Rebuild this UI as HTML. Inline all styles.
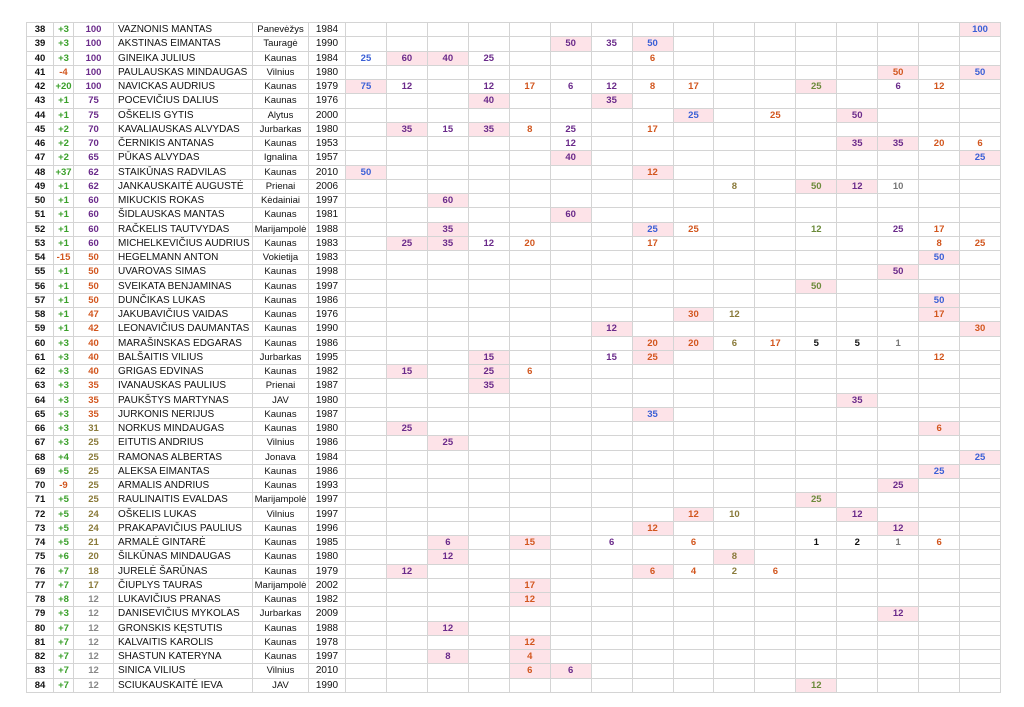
<!DOCTYPE html>
<html><head><meta charset="utf-8">
<style>
html,body{margin:0;padding:0;background:#fff;width:1024px;height:707px;overflow:hidden}
table{position:absolute;left:26px;top:22px;border-collapse:collapse;table-layout:fixed;width:974px;font-family:"Liberation Sans",sans-serif}
td{border:1px solid #d4d4d4;padding:0;height:13.25px;line-height:13px;font-size:9.5px;text-align:center;white-space:nowrap;overflow:hidden}
tr{height:14.255px}
td.n{font-weight:bold;color:#111}
td.c{font-weight:bold;color:#3aa02a}
td.m{font-weight:bold;color:#d2561e}
td.nm{text-align:left;padding-left:4px;font-size:10px;color:#111}
td.ct{font-size:9.5px;color:#111}
td.yr{font-size:10px;color:#111}
.p,.b,.o,.g,.y,.k,.r,.pp,.po,.py,.pg{font-weight:bold}
.p{color:#6a2a8a}.b{color:#3a5fd6}.o{color:#d2561e}.g{color:#6b8a3a}.y{color:#8a7a3a}.k{color:#111}.r{color:#777}
.pp{color:#6a2a8a}.po{color:#d2561e}.py{color:#8a7a3a}.pg{color:#888}
.h{background:#fde3e8}
</style></head><body>
<table>
<colgroup><col style="width:27px"><col style="width:20px"><col style="width:40px"><col style="width:139px"><col style="width:56px"><col style="width:37px">
<col span="16" style="width:40.94px"></colgroup>
<tr><td class="n">38</td><td class="c">+3</td><td class="pp">100</td><td class="nm">VAZNONIS MANTAS</td><td class="ct">Panevėžys</td><td class="yr">1984</td><td></td><td></td><td></td><td></td><td></td><td></td><td></td><td></td><td></td><td></td><td></td><td></td><td></td><td></td><td></td><td class="b h">100</td></tr>
<tr><td class="n">39</td><td class="c">+3</td><td class="pp">100</td><td class="nm">AKSTINAS EIMANTAS</td><td class="ct">Tauragė</td><td class="yr">1990</td><td></td><td></td><td></td><td></td><td></td><td class="p h">50</td><td class="p">35</td><td class="b h">50</td><td></td><td></td><td></td><td></td><td></td><td></td><td></td><td></td></tr>
<tr><td class="n">40</td><td class="c">+3</td><td class="pp">100</td><td class="nm">GINEIKA JULIUS</td><td class="ct">Kaunas</td><td class="yr">1984</td><td class="b">25</td><td class="p h">60</td><td class="p h">40</td><td class="p">25</td><td></td><td></td><td></td><td class="o">6</td><td></td><td></td><td></td><td></td><td></td><td></td><td></td><td></td></tr>
<tr><td class="n">41</td><td class="m">-4</td><td class="pp">100</td><td class="nm">PAULAUSKAS MINDAUGAS</td><td class="ct">Vilnius</td><td class="yr">1980</td><td></td><td></td><td></td><td></td><td></td><td></td><td></td><td></td><td></td><td></td><td></td><td></td><td></td><td class="o h">50</td><td></td><td class="b h">50</td></tr>
<tr><td class="n">42</td><td class="c">+20</td><td class="pp">100</td><td class="nm">NAVICKAS AUDRIUS</td><td class="ct">Kaunas</td><td class="yr">1979</td><td class="b h">75</td><td class="p">12</td><td></td><td class="p">12</td><td class="o">17</td><td class="p">6</td><td class="p">12</td><td class="o">8</td><td class="o">17</td><td></td><td></td><td class="g h">25</td><td></td><td class="p">6</td><td class="o">12</td><td></td></tr>
<tr><td class="n">43</td><td class="c">+1</td><td class="pp">75</td><td class="nm">POCEVIČIUS DALIUS</td><td class="ct">Kaunas</td><td class="yr">1976</td><td></td><td></td><td></td><td class="p h">40</td><td></td><td></td><td class="p h">35</td><td></td><td></td><td></td><td></td><td></td><td></td><td></td><td></td><td></td></tr>
<tr><td class="n">44</td><td class="c">+1</td><td class="pp">75</td><td class="nm">OŠKELIS GYTIS</td><td class="ct">Alytus</td><td class="yr">2000</td><td></td><td></td><td></td><td></td><td></td><td></td><td></td><td></td><td class="b h">25</td><td></td><td class="o">25</td><td></td><td class="p h">50</td><td></td><td></td><td></td></tr>
<tr><td class="n">45</td><td class="c">+2</td><td class="pp">70</td><td class="nm">KAVALIAUSKAS ALVYDAS</td><td class="ct">Jurbarkas</td><td class="yr">1980</td><td></td><td class="p h">35</td><td class="p">15</td><td class="p h">35</td><td class="o">8</td><td class="p">25</td><td></td><td class="o">17</td><td></td><td></td><td></td><td></td><td></td><td></td><td></td><td></td></tr>
<tr><td class="n">46</td><td class="c">+2</td><td class="pp">70</td><td class="nm">ČERNIKIS ANTANAS</td><td class="ct">Kaunas</td><td class="yr">1953</td><td></td><td></td><td></td><td></td><td></td><td class="p">12</td><td></td><td></td><td></td><td></td><td></td><td></td><td class="p h">35</td><td class="p h">35</td><td class="o">20</td><td class="o">6</td></tr>
<tr><td class="n">47</td><td class="c">+2</td><td class="pp">65</td><td class="nm">PŪKAS ALVYDAS</td><td class="ct">Ignalina</td><td class="yr">1957</td><td></td><td></td><td></td><td></td><td></td><td class="p h">40</td><td></td><td></td><td></td><td></td><td></td><td></td><td></td><td></td><td></td><td class="b h">25</td></tr>
<tr><td class="n">48</td><td class="c">+37</td><td class="pp">62</td><td class="nm">STAIKŪNAS RADVILAS</td><td class="ct">Kaunas</td><td class="yr">2010</td><td class="b h">50</td><td></td><td></td><td></td><td></td><td></td><td></td><td class="o h">12</td><td></td><td></td><td></td><td></td><td></td><td></td><td></td><td></td></tr>
<tr><td class="n">49</td><td class="c">+1</td><td class="pp">62</td><td class="nm">JANKAUSKAITĖ AUGUSTĖ</td><td class="ct">Prienai</td><td class="yr">2006</td><td></td><td></td><td></td><td></td><td></td><td></td><td></td><td></td><td></td><td class="y">8</td><td></td><td class="g h">50</td><td class="p h">12</td><td class="r">10</td><td></td><td></td></tr>
<tr><td class="n">50</td><td class="c">+1</td><td class="pp">60</td><td class="nm">MIKUCKIS ROKAS</td><td class="ct">Kėdainiai</td><td class="yr">1997</td><td></td><td></td><td class="p h">60</td><td></td><td></td><td></td><td></td><td></td><td></td><td></td><td></td><td></td><td></td><td></td><td></td><td></td></tr>
<tr><td class="n">51</td><td class="c">+1</td><td class="pp">60</td><td class="nm">ŠIDLAUSKAS MANTAS</td><td class="ct">Kaunas</td><td class="yr">1981</td><td></td><td></td><td></td><td></td><td></td><td class="p h">60</td><td></td><td></td><td></td><td></td><td></td><td></td><td></td><td></td><td></td><td></td></tr>
<tr><td class="n">52</td><td class="c">+1</td><td class="pp">60</td><td class="nm">RAČKELIS TAUTVYDAS</td><td class="ct">Marijampolė</td><td class="yr">1988</td><td></td><td></td><td class="p h">35</td><td></td><td></td><td></td><td></td><td class="b h">25</td><td class="o">25</td><td></td><td></td><td class="g">12</td><td></td><td class="p">25</td><td class="o">17</td><td></td></tr>
<tr><td class="n">53</td><td class="c">+1</td><td class="pp">60</td><td class="nm">MICHELKEVIČIUS AUDRIUS</td><td class="ct">Kaunas</td><td class="yr">1983</td><td></td><td class="p h">25</td><td class="p h">35</td><td class="p">12</td><td class="o">20</td><td></td><td></td><td class="o">17</td><td></td><td></td><td></td><td></td><td></td><td></td><td class="o">8</td><td class="o">25</td></tr>
<tr><td class="n">54</td><td class="m">-15</td><td class="po">50</td><td class="nm">HEGELMANN ANTON</td><td class="ct">Vokietija</td><td class="yr">1983</td><td></td><td></td><td></td><td></td><td></td><td></td><td></td><td></td><td></td><td></td><td></td><td></td><td></td><td></td><td class="b h">50</td><td></td></tr>
<tr><td class="n">55</td><td class="c">+1</td><td class="po">50</td><td class="nm">UVAROVAS SIMAS</td><td class="ct">Kaunas</td><td class="yr">1998</td><td></td><td></td><td></td><td></td><td></td><td></td><td></td><td></td><td></td><td></td><td></td><td></td><td></td><td class="p h">50</td><td></td><td></td></tr>
<tr><td class="n">56</td><td class="c">+1</td><td class="po">50</td><td class="nm">SVEIKATA BENJAMINAS</td><td class="ct">Kaunas</td><td class="yr">1997</td><td></td><td></td><td></td><td></td><td></td><td></td><td></td><td></td><td></td><td></td><td></td><td class="g h">50</td><td></td><td></td><td></td><td></td></tr>
<tr><td class="n">57</td><td class="c">+1</td><td class="po">50</td><td class="nm">DUNČIKAS LUKAS</td><td class="ct">Kaunas</td><td class="yr">1986</td><td></td><td></td><td></td><td></td><td></td><td></td><td></td><td></td><td></td><td></td><td></td><td></td><td></td><td></td><td class="b h">50</td><td></td></tr>
<tr><td class="n">58</td><td class="c">+1</td><td class="po">47</td><td class="nm">JAKUBAVIČIUS VAIDAS</td><td class="ct">Kaunas</td><td class="yr">1976</td><td></td><td></td><td></td><td></td><td></td><td></td><td></td><td></td><td class="o h">30</td><td class="y">12</td><td></td><td></td><td></td><td></td><td class="o h">17</td><td></td></tr>
<tr><td class="n">59</td><td class="c">+1</td><td class="po">42</td><td class="nm">LEONAVIČIUS DAUMANTAS</td><td class="ct">Kaunas</td><td class="yr">1990</td><td></td><td></td><td></td><td></td><td></td><td></td><td class="p h">12</td><td></td><td></td><td></td><td></td><td></td><td></td><td></td><td></td><td class="o h">30</td></tr>
<tr><td class="n">60</td><td class="c">+3</td><td class="po">40</td><td class="nm">MARAŠINSKAS EDGARAS</td><td class="ct">Kaunas</td><td class="yr">1986</td><td></td><td></td><td></td><td></td><td></td><td></td><td></td><td class="o h">20</td><td class="o h">20</td><td class="y">6</td><td class="o">17</td><td class="k">5</td><td class="k">5</td><td class="r">1</td><td></td><td></td></tr>
<tr><td class="n">61</td><td class="c">+3</td><td class="po">40</td><td class="nm">BALŠAITIS VILIUS</td><td class="ct">Jurbarkas</td><td class="yr">1995</td><td></td><td></td><td></td><td class="p h">15</td><td></td><td></td><td class="p">15</td><td class="o h">25</td><td></td><td></td><td></td><td></td><td></td><td></td><td class="o">12</td><td></td></tr>
<tr><td class="n">62</td><td class="c">+3</td><td class="po">40</td><td class="nm">GRIGAS EDVINAS</td><td class="ct">Kaunas</td><td class="yr">1982</td><td></td><td class="p h">15</td><td></td><td class="p h">25</td><td class="o">6</td><td></td><td></td><td></td><td></td><td></td><td></td><td></td><td></td><td></td><td></td><td></td></tr>
<tr><td class="n">63</td><td class="c">+3</td><td class="po">35</td><td class="nm">IVANAUSKAS PAULIUS</td><td class="ct">Prienai</td><td class="yr">1987</td><td></td><td></td><td></td><td class="p h">35</td><td></td><td></td><td></td><td></td><td></td><td></td><td></td><td></td><td></td><td></td><td></td><td></td></tr>
<tr><td class="n">64</td><td class="c">+3</td><td class="po">35</td><td class="nm">PAUKŠTYS MARTYNAS</td><td class="ct">JAV</td><td class="yr">1980</td><td></td><td></td><td></td><td></td><td></td><td></td><td></td><td></td><td></td><td></td><td></td><td></td><td class="p h">35</td><td></td><td></td><td></td></tr>
<tr><td class="n">65</td><td class="c">+3</td><td class="po">35</td><td class="nm">JURKONIS NERIJUS</td><td class="ct">Kaunas</td><td class="yr">1987</td><td></td><td></td><td></td><td></td><td></td><td></td><td></td><td class="b h">35</td><td></td><td></td><td></td><td></td><td></td><td></td><td></td><td></td></tr>
<tr><td class="n">66</td><td class="c">+3</td><td class="py">31</td><td class="nm">NORKUS MINDAUGAS</td><td class="ct">Kaunas</td><td class="yr">1980</td><td></td><td class="p h">25</td><td></td><td></td><td></td><td></td><td></td><td></td><td></td><td></td><td></td><td></td><td></td><td></td><td class="o h">6</td><td></td></tr>
<tr><td class="n">67</td><td class="c">+3</td><td class="py">25</td><td class="nm">EITUTIS ANDRIUS</td><td class="ct">Vilnius</td><td class="yr">1986</td><td></td><td></td><td class="p h">25</td><td></td><td></td><td></td><td></td><td></td><td></td><td></td><td></td><td></td><td></td><td></td><td></td><td></td></tr>
<tr><td class="n">68</td><td class="c">+4</td><td class="py">25</td><td class="nm">RAMONAS ALBERTAS</td><td class="ct">Jonava</td><td class="yr">1984</td><td></td><td></td><td></td><td></td><td></td><td></td><td></td><td></td><td></td><td></td><td></td><td></td><td></td><td></td><td></td><td class="b h">25</td></tr>
<tr><td class="n">69</td><td class="c">+5</td><td class="py">25</td><td class="nm">ALEKSA EIMANTAS</td><td class="ct">Kaunas</td><td class="yr">1986</td><td></td><td></td><td></td><td></td><td></td><td></td><td></td><td></td><td></td><td></td><td></td><td></td><td></td><td></td><td class="b h">25</td><td></td></tr>
<tr><td class="n">70</td><td class="m">-9</td><td class="py">25</td><td class="nm">ARMALIS ANDRIUS</td><td class="ct">Kaunas</td><td class="yr">1993</td><td></td><td></td><td></td><td></td><td></td><td></td><td></td><td></td><td></td><td></td><td></td><td></td><td></td><td class="p h">25</td><td></td><td></td></tr>
<tr><td class="n">71</td><td class="c">+5</td><td class="py">25</td><td class="nm">RAULINAITIS EVALDAS</td><td class="ct">Marijampolė</td><td class="yr">1997</td><td></td><td></td><td></td><td></td><td></td><td></td><td></td><td></td><td></td><td></td><td></td><td class="g h">25</td><td></td><td></td><td></td><td></td></tr>
<tr><td class="n">72</td><td class="c">+5</td><td class="py">24</td><td class="nm">OŠKELIS LUKAS</td><td class="ct">Vilnius</td><td class="yr">1997</td><td></td><td></td><td></td><td></td><td></td><td></td><td></td><td></td><td class="o h">12</td><td class="y">10</td><td></td><td></td><td class="p h">12</td><td></td><td></td><td></td></tr>
<tr><td class="n">73</td><td class="c">+5</td><td class="py">24</td><td class="nm">PRAKAPAVIČIUS PAULIUS</td><td class="ct">Kaunas</td><td class="yr">1996</td><td></td><td></td><td></td><td></td><td></td><td></td><td></td><td class="o h">12</td><td></td><td></td><td></td><td></td><td></td><td class="p h">12</td><td></td><td></td></tr>
<tr><td class="n">74</td><td class="c">+5</td><td class="py">21</td><td class="nm">ARMALĖ GINTARĖ</td><td class="ct">Kaunas</td><td class="yr">1985</td><td></td><td></td><td class="p h">6</td><td></td><td class="o h">15</td><td></td><td class="p">6</td><td></td><td class="o">6</td><td></td><td></td><td class="k">1</td><td class="k">2</td><td class="r">1</td><td class="o">6</td><td></td></tr>
<tr><td class="n">75</td><td class="c">+6</td><td class="py">20</td><td class="nm">ŠILKŪNAS MINDAUGAS</td><td class="ct">Kaunas</td><td class="yr">1980</td><td></td><td></td><td class="p h">12</td><td></td><td></td><td></td><td></td><td></td><td></td><td class="y h">8</td><td></td><td></td><td></td><td></td><td></td><td></td></tr>
<tr><td class="n">76</td><td class="c">+7</td><td class="py">18</td><td class="nm">JURELĖ ŠARŪNAS</td><td class="ct">Kaunas</td><td class="yr">1979</td><td></td><td class="p h">12</td><td></td><td></td><td></td><td></td><td></td><td class="o h">6</td><td class="o">4</td><td class="y">2</td><td class="o">6</td><td></td><td></td><td></td><td></td><td></td></tr>
<tr><td class="n">77</td><td class="c">+7</td><td class="py">17</td><td class="nm">ČIUPLYS TAURAS</td><td class="ct">Marijampolė</td><td class="yr">2002</td><td></td><td></td><td></td><td></td><td class="o h">17</td><td></td><td></td><td></td><td></td><td></td><td></td><td></td><td></td><td></td><td></td><td></td></tr>
<tr><td class="n">78</td><td class="c">+8</td><td class="pg">12</td><td class="nm">LUKAVIČIUS PRANAS</td><td class="ct">Kaunas</td><td class="yr">1982</td><td></td><td></td><td></td><td></td><td class="o h">12</td><td></td><td></td><td></td><td></td><td></td><td></td><td></td><td></td><td></td><td></td><td></td></tr>
<tr><td class="n">79</td><td class="c">+3</td><td class="pg">12</td><td class="nm">DANISEVIČIUS MYKOLAS</td><td class="ct">Jurbarkas</td><td class="yr">2009</td><td></td><td></td><td></td><td></td><td></td><td></td><td></td><td></td><td></td><td></td><td></td><td></td><td></td><td class="p h">12</td><td></td><td></td></tr>
<tr><td class="n">80</td><td class="c">+7</td><td class="pg">12</td><td class="nm">GRONSKIS KĘSTUTIS</td><td class="ct">Kaunas</td><td class="yr">1988</td><td></td><td></td><td class="p h">12</td><td></td><td></td><td></td><td></td><td></td><td></td><td></td><td></td><td></td><td></td><td></td><td></td><td></td></tr>
<tr><td class="n">81</td><td class="c">+7</td><td class="pg">12</td><td class="nm">KALVAITIS KAROLIS</td><td class="ct">Kaunas</td><td class="yr">1978</td><td></td><td></td><td></td><td></td><td class="o h">12</td><td></td><td></td><td></td><td></td><td></td><td></td><td></td><td></td><td></td><td></td><td></td></tr>
<tr><td class="n">82</td><td class="c">+7</td><td class="pg">12</td><td class="nm">SHASTUN KATERYNA</td><td class="ct">Kaunas</td><td class="yr">1997</td><td></td><td></td><td class="p h">8</td><td></td><td class="o h">4</td><td></td><td></td><td></td><td></td><td></td><td></td><td></td><td></td><td></td><td></td><td></td></tr>
<tr><td class="n">83</td><td class="c">+7</td><td class="pg">12</td><td class="nm">SINICA VILIUS</td><td class="ct">Vilnius</td><td class="yr">2010</td><td></td><td></td><td></td><td></td><td class="o h">6</td><td class="p h">6</td><td></td><td></td><td></td><td></td><td></td><td></td><td></td><td></td><td></td><td></td></tr>
<tr><td class="n">84</td><td class="c">+7</td><td class="pg">12</td><td class="nm">SCIUKAUSKAITĖ IEVA</td><td class="ct">JAV</td><td class="yr">1990</td><td></td><td></td><td></td><td></td><td></td><td></td><td></td><td></td><td></td><td></td><td></td><td class="g h">12</td><td></td><td></td><td></td><td></td></tr>
</table>
</body></html>
